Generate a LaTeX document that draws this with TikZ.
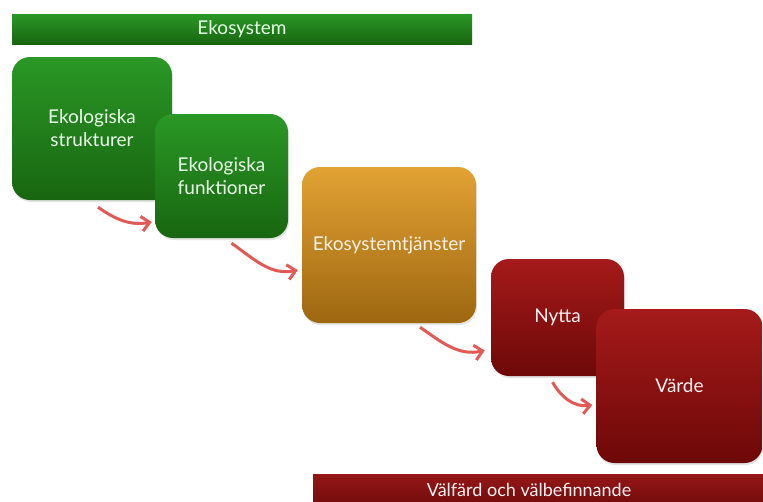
\documentclass[tikz,border=0pt]{standalone}
\usepackage{fontspec}
\setmainfont{Lato}
\usepackage{tikz}
\usetikzlibrary{arrows.meta,calc,shadows}
\definecolor{grtop}{HTML}{2A9826}
\definecolor{grbot}{HTML}{186610}
\definecolor{ortop}{HTML}{E2A234}
\definecolor{orbot}{HTML}{9E6710}
\definecolor{rdtop}{HTML}{A51A1A}
\definecolor{rdbot}{HTML}{6E0808}
\definecolor{flowred}{HTML}{E25A55}
\tikzset{
  box/.style={rounded corners=18pt, inner sep=4pt, align=center,
    font=\fontsize{19}{23}\selectfont,
    drop shadow={opacity=0.22, shadow xshift=1pt, shadow yshift=-2pt}},
  green box/.style={box, top color=grtop, bottom color=grbot, text=green!8!white},
  orange box/.style={box, top color=ortop, bottom color=orbot, text=orange!10!white},
  red box/.style={box, top color=rdtop, bottom color=rdbot, text=red!6!white},
  bar/.style={inner sep=0pt, font=\fontsize{19}{22}\selectfont},
  flow/.style={draw=flowred, line width=3pt, -{Straight Barb[length=8pt,width=15pt]}}
}
\begin{document}
\begin{tikzpicture}[x=1pt,y=-1pt]
        \clip (0,0) rectangle (763,501);
        \fill[white] (0,0) rectangle (763,501);

        \node[bar, top color=grtop, bottom color=grbot, text=green!10!white,
              minimum width=460pt, minimum height=30pt] (eco) at (242,29) {Ekosystem};
        \node[bar, top color=rdtop!90!black, bottom color=rdbot, text=red!5!white,
              minimum width=450pt, minimum height=36pt] (welfare) at (538,492) {};
        \node[bar, font=\fontsize{18}{22}\selectfont, text=red!5!white] at (529,490) {Välfärd och välbefinnande};

        \node[green box, minimum width=160pt, minimum height=143pt] (struct) at (92,128.5) {Ekologiska\\strukturer};
        \node[green box, minimum width=133pt, minimum height=124pt] (func) at (221.5,176) {Ekologiska\\funktioner};
        \node[orange box, minimum width=174pt, minimum height=156pt] (serv) at (389,245) {Ekosystemtjänster};
        \node[red box, minimum width=133pt, minimum height=117pt] (benefit) at (557.5,317.5) {Nytta};
        \node[red box, minimum width=166pt, minimum height=154pt] (value) at (679.5,386) {Värde};

        \draw[flow] ([shift={(6,7)}]struct.south) to[out=-35,in=190] ([shift={(-3,46)}]func.west);
        \draw[flow] ([shift={(10,5)}]func.south) to[out=-35,in=192] ([shift={(-4,25)}]serv.west);
        \draw[flow] ([shift={(31,4)}]serv.south) to[out=-35,in=192] ([shift={(-6,33)}]benefit.west);
        \draw[flow] ([shift={(-5,6)}]benefit.south) to[out=-60,in=188] ([shift={(-4,19)}]value.west);
    \end{tikzpicture}
\end{document}
